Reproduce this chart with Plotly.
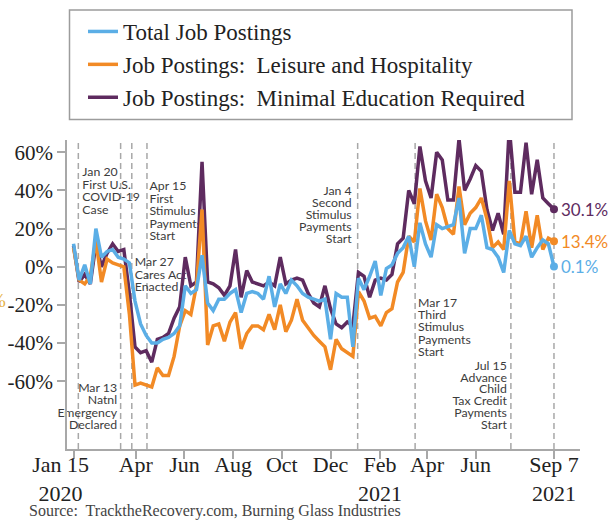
import plotly.graph_objects as go
import pandas as pd

# ---------------- data ----------------
dates = pd.date_range(end="2021-09-07", periods=87, freq="7D")

total = [12, -7, 1, -9, 20, 5, 8, 9, 5, 4,
         2, -18, -30, -36, -40, -40, -38, -37, -35, -31,
         -10, -14, -12, 6, -19, -23, -17, -17, -14, -12,
         -24, -14, -13, -14, -17, -5, -21, -9, -14, -7,
         -10, -14, -16, -17, -18, -17, -38, -14, -16, -16,
         -42, -6, -12, -5, 3, -15, -1, 1, 7, 10,
         16, 0, 23, 12, 5, 22, 20, 21, 22, 36,
         7, 20, 20, 27, 10, 9, 5, -3, 19, 12,
         11, 16, 5, 10, 14, 12, 0.1]

leisure = [10, -7, -9, -5, 14, -8, 4, 2, 1, 0,
           -25, -62, -61, -62, -63, -53, -57, -57, -47, -31,
           -23, -25, -10, 30, -41, -31, -30, -39, -29, -24,
           -43, -35, -31, -31, -33, -25, -33, -20, -34, -28,
           -17, -28, -32, -36, -39, -42, -54, -38, -43, -45,
           -47, -13, -18, -27, -26, -31, -24, -22, -8, -3,
           16, 13, 41, 24, 14, 38, 31, 20, 17, 42,
           22, 28, 31, 36, 25, 10, 13, 9, 45, 13,
           12, 29, 10, 27, 9, 15, 13.4]

minimal = [11, -8, -4, -9, 12, 0, 7, 12, 8, 9,
           -14, -42, -45, -44, -50, -38, -37, -35, -27, -21,
           5, -10, -8, 55, -8, -9, -11, -15, -10, 9,
           -16, -2, -8, -9, -10, -8, -10, 5, -9, -7,
           -6, -7, -14, -19, -21, -10, -22, -30, -32, -29,
           -31, -3, -5, -16, -7, -6, -7, -4, 12, 15,
           40, 33, 63, 45, 36, 60, 56, 35, 35, 67,
           40, 46, 53, 50, 30, 19, 28, 17, 73, 39,
           39, 65, 38, 56, 36, 33, 30.1]

series_names = ["Total Job Postings",
                "Job Postings:\u00a0 Leisure and Hospitality",
                "Job Postings:\u00a0 Minimal Education Required"]

x_tick_dates = ["2020-01-15", "2020-04-01", "2020-06-01", "2020-08-01", "2020-10-01",
                "2020-12-01", "2021-02-01", "2021-04-01", "2021-06-01", "2021-09-07"]
pad = "\u00a0" * 5
x_tick_text = ["Jan 15" + pad + "<br>2020" + pad, "Apr", "Jun", "Aug", "Oct",
               "Dec", "Feb<br>2021", "Apr", "Jun", "Sep 7<br>2021"]
y_ticks = [-60, -40, -20, 0, 20, 40, 60]

events = [
    ("2020-01-20", ["Jan 20", "First U.S.", "COVID-19", "Case"]),
    ("2020-03-13", ["Mar 13", "Natnl", "Emergency", "Declared"]),
    ("2020-03-27", ["Mar 27", "Cares Act", "Enacted"]),
    ("2020-04-15", ["Apr 15", "First", "Stimulus", "Payments", "Start"]),
    ("2021-01-04", ["Jan 4", "Second", "Stimulus", "Payments", "Start"]),
    ("2021-03-17", ["Mar 17", "Third", "Stimulus", "Payments", "Start"]),
    ("2021-07-15", ["Jul 15", "Advance", "Child", "Tax Credit", "Payments", "Start"]),
]
end_line_date = "2021-09-07"

source_text = "Source:\u00a0 TracktheRecovery.com, Burning Glass Industries"

# ---------------- styles / geometry ----------------
W, H = 613, 520
ML, MR, MT, MB = 67, 33, 140, 71
PW, PH = W - ML - MR, H - MT - MB
Y0, Y1 = -95.5, 66.4
XR0 = pd.Timestamp("2020-01-15") - pd.Timedelta(days=9.2)
XR1 = pd.Timestamp("2021-09-07") + pd.Timedelta(days=32.6)
px_per_day = PW / ((XR1 - XR0) / pd.Timedelta(days=1))

def px2y(py):
    return Y0 + ((MT + PH) - py) / PH * (Y1 - Y0)

def px2paper_x(px):
    return (px - ML) / PW

def px2paper_y(py):
    return (MT + PH - py) / PH

colors = ["#5BAEE6", "#F28A25", "#5E2B5F"]
SERIF = "Liberation Serif"
SANS = "Lato"
GRID = "#a8a8a8"

# label placement: (side, dx px from line, first line py, spacing px)
place = {
    "2020-01-20": ("right", 4.0, 173, 12.5),
    "2020-03-13": ("left", -3.5, 389, 12.4),
    "2020-03-27": ("right", 3.0, 263, 12.5),
    "2020-04-15": ("right", 2.5, 187, 12.5),
    "2021-01-04": ("left", -6.0, 192, 12.0),
    "2021-03-17": ("right", 3.0, 304, 12.2),
    "2021-07-15": ("left", -4.0, 367, 11.7),
}

fig = go.Figure()

# event labels as text (drawn beneath the lines)
for d, lines in events:
    side, dx, py0, sp = place[d]
    xs, ys = [], []
    for i, t in enumerate(lines):
        xs.append(pd.Timestamp(d) + pd.Timedelta(days=dx / px_per_day))
        ys.append(px2y(py0 + i * sp))
    fig.add_trace(go.Scatter(
        x=xs, y=ys, text=lines, mode="text",
        textposition="middle right" if side == "right" else "middle left",
        textfont=dict(family=SANS, size=12.3, color="#3c3c3c"),
        showlegend=False, hoverinfo="skip", cliponaxis=False))

series = [total, leisure, minimal]
for idx in [2, 1, 0]:
    fig.add_trace(go.Scatter(
        x=dates, y=series[idx], mode="lines", name=series_names[idx],
        line=dict(color=colors[idx], width=3.5), showlegend=True, cliponaxis=False))

for idx in [2, 1, 0]:
    fig.add_trace(go.Scatter(
        x=[dates[-1]], y=[series[idx][-1]], mode="markers",
        marker=dict(color=colors[idx], size=8), showlegend=False,
        hoverinfo="skip", cliponaxis=False))

shapes = []
for d in [e[0] for e in events] + [end_line_date]:
    shapes.append(dict(type="line", xref="x", yref="paper", x0=d, x1=d, y0=0, y1=1,
                       line=dict(color=GRID, width=1.5, dash="6px,4px"), layer="below"))
shapes.append(dict(type="rect", xref="paper", yref="paper",
                   x0=px2paper_x(69.5), x1=px2paper_x(572), y0=px2paper_y(119.5), y1=px2paper_y(10),
                   line=dict(color="#9c9c9c", width=1.5), fillcolor="rgba(0,0,0,0)"))

annotations = []
for idx in range(3):
    v = series[idx][-1]
    annotations.append(dict(x=dates[-1], y=v, xref="x", yref="y", text=f"{v:.1f}%",
                            showarrow=False, xanchor="left", yanchor="middle", xshift=5,
                            font=dict(family=SANS, size=17, color=colors[idx])))
annotations.append(dict(x=px2paper_x(27), y=px2paper_y(511), xref="paper", yref="paper",
                        text=source_text, showarrow=False, xanchor="left", yanchor="middle",
                        font=dict(family=SERIF, size=16, color="#444444")))
annotations.append(dict(x=px2paper_x(8), y=px2paper_y(300), xref="paper", yref="paper",
                        text="%", showarrow=False, xanchor="right", yanchor="middle",
                        font=dict(family=SERIF, size=19, color="#E6B040")))

fig.update_layout(
    width=W, height=H,
    margin=dict(l=ML, r=MR, t=MT, b=MB, pad=0, autoexpand=False),
    paper_bgcolor="white", plot_bgcolor="white",
    showlegend=True,
    legend=dict(xref="container", yref="container", x=83 / W, y=1 - 10 / H,
                xanchor="left", yanchor="top",
                font=dict(family=SERIF, size=23, color="#222222"),
                bgcolor="rgba(0,0,0,0)", borderwidth=0, traceorder="reversed",
                itemwidth=30),
    shapes=shapes, annotations=annotations,
    xaxis=dict(type="date", range=[XR0, XR1], tickvals=x_tick_dates, ticktext=x_tick_text,
               showgrid=False, zeroline=False, showline=True, linecolor=GRID, linewidth=1.5,
               ticks="outside", ticklen=8, tickcolor=GRID, tickwidth=1.5, automargin=False,
               ticklabelstandoff=-13, tickangle=0,
               tickfont=dict(family=SERIF, size=22, color="#222222")),
    yaxis=dict(range=[Y0, Y1], tickvals=y_ticks, ticktext=[f"{v}%" for v in y_ticks],
               showgrid=False, zeroline=False, showline=True, linecolor=GRID, linewidth=1.5,
               ticks="outside", ticklen=8, tickcolor=GRID, tickwidth=1.5, automargin=False,
               tickfont=dict(family=SERIF, size=21, color="#222222")),
)

fig.write_html("out.html")
